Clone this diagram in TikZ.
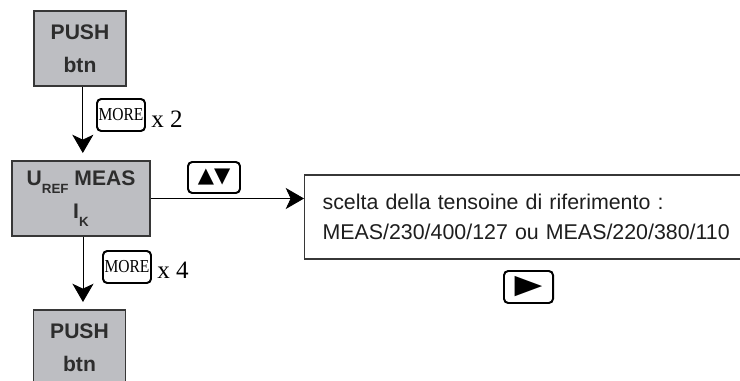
\documentclass[tikz,border=0pt]{standalone}
\usepackage{fontspec}
\setmainfont{Liberation Serif}
\setsansfont{Liberation Sans}
\newfontfamily\symfont{DejaVu Sans}
\usetikzlibrary{arrows.meta}

\begin{document}
\begin{tikzpicture}[x=0.025cm,y=-0.025cm,
		menubox/.style={draw=boxline, fill=boxgray, line width=1.4pt, inner sep=0pt, minimum height=1.875cm, align=center, text=boxtext, font=\sffamily\bfseries\fontsize{15}{23.5}\selectfont},
		keybox/.style={draw=black, line width=1.4pt, rounded corners=3pt, inner sep=0pt, minimum height=0.8cm},
		keytext/.style={font=\fontsize{13}{13}\selectfont},
		reptext/.style={anchor=base west, inner sep=0pt, font=\fontsize{17.8}{17.8}\selectfont},
		txtbox/.style={draw=boxline, line width=0.8pt, fill=white, anchor=west, text width=10.5cm, inner xsep=0.45cm, inner ysep=0pt, minimum height=2.1cm, align=left, text=txtclr, font=\sffamily\fontsize{15.2}{21.3}\selectfont},
		flow/.style={draw=black, line width=0.6pt, -{Stealth[length=13pt,width=15pt,inset=3.5pt]}}]
	
	% Farben
	\definecolor{boxgray}{RGB}{189,190,194}
	\definecolor{boxline}{RGB}{55,55,55}
	\definecolor{boxtext}{RGB}{45,45,45}
	\definecolor{txtclr}{RGB}{30,30,30}
	
	% Rahmen
	\useasboundingbox (0,0) rectangle (740,380);
	\clip (0,0) rectangle (740,380);
	
	% Menue-Kaesten
	\node[menubox, minimum width=2.3cm] (push1) at (80,48.5) {PUSH\\btn};
	\node[menubox, minimum width=3.45cm] (meas) at (81,198.5) {U\raisebox{-5.5pt}{\fontsize{9.5}{9.5}\selectfont REF} MEAS\\I\raisebox{-5.5pt}{\fontsize{9.5}{9.5}\selectfont K}};
	\node[menubox, minimum width=2.3cm] (push2) at (79.5,347.5) {PUSH\\btn};
	
	% Auswahl
	\node[txtbox] (choice) at (304,217) {scelta della tensoine di riferimento :\\MEAS/230/400/127 ou MEAS/220/380/110};
	
	% Tasten
	\node[keybox, keytext, minimum width=1.2cm] (more1) at (121,115) {\scalebox{0.85}[1]{MORE}};
	\node[reptext] (rep1) at (151,128) {x 2};
	\node[keybox, keytext, minimum width=1.2cm] (more2) at (127,267) {\scalebox{0.85}[1]{MORE}};
	\node[reptext] (rep2) at (157,278) {x 4};
	\node[keybox, minimum width=1.3cm, minimum height=0.775cm, font=\symfont\fontsize{15}{15}\selectfont] (updown) at (214,177.5) {▲▼};
	\node[keybox, minimum width=1.225cm, font=\symfont\fontsize{19}{19}\selectfont] (next) at (528.5,287) {\scalebox{1.35}[1]{▶}};
	
	% Pfeile
	\draw[flow, shorten >=0.175cm] ([xshift=2pt]push1.south) -- ([xshift=2pt]push1.south |- meas.north);
	\draw[flow, shorten >=0.175cm] ([xshift=1.4pt]meas.south) -- ([xshift=1.4pt]meas.south |- push2.north);
	\draw[flow] (meas.east) -- (meas.east -| choice.west);
	
\end{tikzpicture}
\end{document}
